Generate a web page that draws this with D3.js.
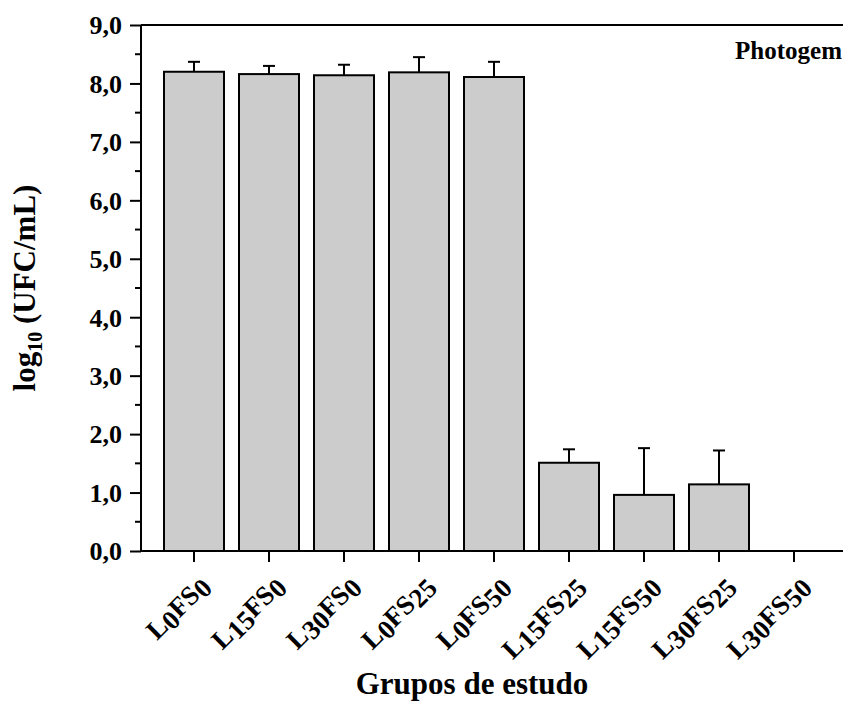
<!DOCTYPE html>
<html>
<head>
<meta charset="utf-8">
<script src="https://cdn.jsdelivr.net/npm/d3@7"></script>
<style>
  body { margin: 0; background: #fff; }
  svg text { font-family: "Liberation Serif", "Times New Roman", serif; font-weight: bold; fill: #000; }
</style>
</head>
<body>
<svg id="chart" width="843" height="701"></svg>
<script>
// study groups: L = light dose, FS = photosensitizer dose
const groups = ["L0FS0", "L15FS0", "L30FS0", "L0FS25", "L0FS50", "L15FS25", "L15FS50", "L30FS25", "L30FS50"];
const means = [8.20, 8.16, 8.14, 8.19, 8.11, 1.51, 0.96, 1.14, 0];
const sds = [0.17, 0.14, 0.18, 0.26, 0.26, 0.23, 0.80, 0.58, 0];
const yTicks = [0, 1, 2, 3, 4, 5, 6, 7, 8, 9];
const yMinor = [0.5, 1.5, 2.5, 3.5, 4.5, 5.5, 6.5, 7.5, 8.5];

const svg = d3.select("#chart");
const plotLeft = 141, plotTop = 25, plotBottom = 551, plotRight = 843;

const x = d3.scaleBand()
    .domain(groups)
    .range([156.5, 831.5])
    .paddingInner(0.2)
    .paddingOuter(0.1);

const y = d3.scaleLinear()
    .domain([0, 9])
    .range([plotBottom, plotTop]);

const fmt = v => d3.format(".1f")(v).replace(".", ",");

// bars
svg.append("g").selectAll("rect")
    .data(groups.filter((g, i) => means[i] > 0))
    .enter()
    .append("rect")
    .attr("x", d => x(d))
    .attr("y", d => y(means[groups.indexOf(d)]))
    .attr("width", x.bandwidth())
    .attr("height", d => y(0) - y(means[groups.indexOf(d)]))
    .attr("fill", "#cccccc")
    .attr("stroke", "#000")
    .attr("stroke-width", 2);

// error bars (upper only)
const err = svg.append("g").attr("stroke", "#000").attr("stroke-width", 2);
groups.forEach((g, i) => {
    if (sds[i] <= 0) return;
    const cx = x(g) + x.bandwidth() / 2;
    err.append("line")
        .attr("x1", cx).attr("x2", cx)
        .attr("y1", y(means[i])).attr("y2", y(means[i] + sds[i]));
    err.append("line")
        .attr("x1", cx - 6).attr("x2", cx + 6)
        .attr("y1", y(means[i] + sds[i])).attr("y2", y(means[i] + sds[i]));
});

// top frame line
svg.append("line")
    .attr("x1", plotLeft).attr("x2", plotRight + 5)
    .attr("y1", plotTop).attr("y2", plotTop)
    .attr("stroke", "#000").attr("stroke-width", 2);

// y axis
const yAxis = svg.append("g").attr("transform", `translate(${plotLeft},0)`);
yAxis.call(d3.axisLeft(y).tickValues(yTicks).tickSize(11).tickPadding(8).tickFormat(fmt));
yAxis.select(".domain").attr("d", `M0,${plotBottom}V${plotTop}`).attr("stroke-width", 2);
yAxis.selectAll(".tick line").attr("stroke-width", 2);
yAxis.selectAll(".tick text")
    .style("font-size", "26px")
    .attr("dy", "0.34em");
yAxis.selectAll(".minor")
    .data(yMinor)
    .enter()
    .append("line")
    .attr("x1", -6).attr("x2", 0)
    .attr("y1", d => y(d)).attr("y2", d => y(d))
    .attr("stroke", "#000").attr("stroke-width", 2);

// x axis
const xAxis = svg.append("g").attr("transform", `translate(0,${plotBottom})`);
xAxis.call(d3.axisBottom(x).tickSize(11).tickFormat(""));
xAxis.select(".domain").attr("d", `M${plotLeft},0H${plotRight + 5}`).attr("stroke-width", 2);
xAxis.selectAll(".tick line").attr("stroke-width", 2);

// rotated x labels with subscripts
const labels = svg.append("g");
groups.forEach(g => {
    const m = g.match(/L(\d+)FS(\d+)/);
    const cx = x(g) + x.bandwidth() / 2;
    const t = labels.append("text")
        .attr("transform", `translate(${cx + 17},587) rotate(-45)`)
        .attr("text-anchor", "end")
        .style("font-size", "27px");
    t.append("tspan").text("L");
    t.append("tspan").attr("dy", 4).text(m[1]);
    t.append("tspan").attr("dy", -4).text("FS");
    t.append("tspan").attr("dy", 4).text(m[2]);
});

// axis titles
const yTitle = svg.append("text")
    .attr("transform", "translate(35,288) rotate(-90)")
    .attr("text-anchor", "middle")
    .style("font-size", "31px");
yTitle.append("tspan").text("log");
yTitle.append("tspan").attr("dy", 7).style("font-size", "20px").text("10");
yTitle.append("tspan").attr("dy", -7).text(" (UFC/mL)");

svg.append("text")
    .attr("x", 472)
    .attr("y", 694)
    .attr("text-anchor", "middle")
    .style("font-size", "31px")
    .text("Grupos de estudo");

svg.append("text")
    .attr("x", 842)
    .attr("y", 59)
    .attr("text-anchor", "end")
    .style("font-size", "25px")
    .text("Photogem");
</script>
</body>
</html>
